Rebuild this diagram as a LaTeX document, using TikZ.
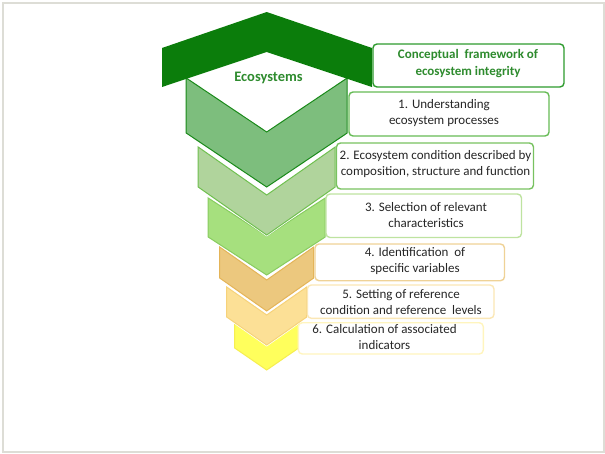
\documentclass[tikz,border=0pt]{standalone}
\usepackage{fontspec}
\setmainfont{Carlito}
\definecolor{framegray}{HTML}{DDDDD6}
\definecolor{roofgreen}{HTML}{0B7D0B}
\definecolor{ecotext}{HTML}{2E8B2E}
\definecolor{cAfill}{HTML}{7DBE7D}\definecolor{cAline}{HTML}{1A8A1A}
\definecolor{cBfill}{HTML}{B0D49C}\definecolor{cBline}{HTML}{70C050}
\definecolor{cCfill}{HTML}{A6E07E}\definecolor{cCline}{HTML}{88CC60}
\definecolor{cDfill}{HTML}{ECC87E}\definecolor{cDline}{HTML}{E4B458}
\definecolor{cEfill}{HTML}{FCE096}\definecolor{cEline}{HTML}{F6D27A}
\definecolor{cFfill}{HTML}{FFFF5C}\definecolor{cFline}{HTML}{F6EE50}
\definecolor{bO}{HTML}{2E9B2E}
\definecolor{bA}{HTML}{66BB55}
\definecolor{bB}{HTML}{78C260}
\definecolor{bC}{HTML}{BEE3A0}
\definecolor{bD}{HTML}{EFD296}
\definecolor{bE}{HTML}{FBE7B5}
\definecolor{bF}{HTML}{FFF5BE}
% chevron: #1 half width, #2 top y, #3 edge height, #4 depth
\newcommand{\mychev}[4]{({266.7-#1},{#2}) -- (266.7,{#2+#4}) -- ({266.7+#1},{#2}) -- ({266.7+#1},{#2+#3}) -- (266.7,{#2+#3+#4}) -- ({266.7-#1},{#2+#3}) -- cycle}
\begin{document}
\begin{tikzpicture}[x=1pt,y=-1pt,
  halo/.style={draw=white, line width=2.4pt, line join=miter},
  chev/.style={line width=1pt, line join=miter},
  box/.style={draw, fill=white, rounded corners=4pt, line width=1.4pt, inner sep=0pt, outer sep=0pt},
  txt/.style={text=black!85, font=\fontsize{13}{16}\selectfont, align=center, inner sep=0pt},
]
\useasboundingbox (0,0) rectangle (605,453);
\draw[framegray, line width=1.3pt] (3,3) rectangle (604,452);
% chevrons, bottom first
\draw[halo] \mychev{32}{323}{25}{22};
\draw[chev, fill=cFfill, draw=cFline] \mychev{32}{323}{25}{22};
\draw[halo] \mychev{40}{287}{30}{28};
\draw[chev, fill=cEfill, draw=cEline] \mychev{40}{287}{30}{28};
\draw[halo] \mychev{47}{247}{31}{33};
\draw[chev, fill=cDfill, draw=cDline] \mychev{47}{247}{31}{33};
\draw[halo] \mychev{58.5}{198}{39}{38};
\draw[chev, fill=cCfill, draw=cCline] \mychev{58.5}{198}{39}{38};
\draw[halo] \mychev{68.5}{147}{40}{48};
\draw[chev, fill=cBfill, draw=cBline] \mychev{68.5}{147}{40}{48};
\draw[chev, fill=cAfill, draw=cAline] \mychev{80.5}{78}{55}{54};
% roof
\fill[roofgreen] (266.7,12) -- (372,48) -- (372,87) -- (266.7,52) -- (162,87) -- (162,48) -- cycle;
\node[font=\fontsize{14.5}{16}\selectfont\bfseries, text=ecotext, inner sep=0pt] (eco) at (268.5,78) {Ecosystems};
% boxes
\node[box, draw=bO, minimum width=191pt, minimum height=43pt] (b0) at (468.5,65.5) {};
\node[box, draw=bA, minimum width=200pt, minimum height=44pt] (b1) at (449,114) {};
\node[box, draw=bB, minimum width=197pt, minimum height=46pt] (b2) at (435,166) {};
\node[box, draw=bC, minimum width=195.5pt, minimum height=43.5pt] (b3) at (423.75,215.75) {};
\node[box, draw=bD, minimum width=189.5pt, minimum height=36.7pt] (b4) at (409.75,262.35) {};
\node[box, draw=bE, minimum width=186.7pt, minimum height=33.3pt] (b5) at (400.65,301.65) {};
\node[box, draw=bF, minimum width=185pt, minimum height=31.3pt] (b6) at (390.8,338.35) {};
% texts
\node[txt, text=ecotext, font=\fontsize{13}{17}\selectfont\bfseries] (t0) at (468,64) {Conceptual\ \ framework of\\ecosystem integrity};
\node[txt] (t1) at (444,113.5) {1. Understanding\\ecosystem processes};
\node[txt] (t2) at (435.5,164) {2. Ecosystem condition described by\\composition, structure and function};
\node[txt] (t3) at (426,215.5) {3. Selection of relevant\\characteristics};
\node[txt] (t4) at (415,261) {4. Identification\ \ of\\specific variables};
\node[txt] (t5) at (401,302) {5. Setting of reference\\condition and reference\ \ levels};
\node[txt] (t6) at (384.5,337) {6. Calculation of associated\\indicators};
\end{tikzpicture}
\end{document}
